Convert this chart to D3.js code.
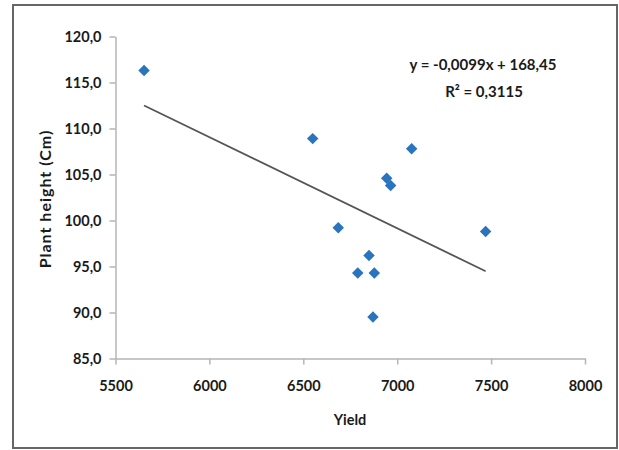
<!DOCTYPE html>
<html><head><meta charset="utf-8">
<script src="https://cdn.jsdelivr.net/npm/d3@7"></script>
<style>
html,body{margin:0;padding:0;background:#fff;}
text{font-family:Lato,"Open Sans",sans-serif;font-weight:bold;fill:#1a1a1a;}
</style></head>
<body><svg id="c" width="619" height="450"></svg>
<script>
// Data
const yieldValues  = [5652, 6550, 7077, 6944, 6965, 6686, 7471, 6850, 6790, 6878, 6871];
const heightValues = [116.3, 108.9, 107.8, 104.6, 103.8, 99.2, 98.8, 96.2, 94.3, 94.3, 89.5];
const xTicks = [5500, 6000, 6500, 7000, 7500, 8000];
const yTicks = [85, 90, 95, 100, 105, 110, 115, 120];
const trendSlope = -0.0099;
const trendIntercept = 168.45;
const equationLabel = "y = -0,0099x + 168,45";
const r2Label = "R² = 0,3115";
const xTitle = "Yield";
const yTitle = "Plant height (Cm)";

const svg = d3.select("#c");
svg.append("rect").attr("x",13).attr("y",5).attr("width",604).attr("height",443)
  .attr("fill","#fff").attr("stroke","#666").attr("stroke-width",2);

const x = d3.scaleLinear().domain([5500,8000]).range([115.5,585]);
const y = d3.scaleLinear().domain([85,120]).range([358.5,36.5]);

const fmtY = v => d3.format(".1f")(v).replace(".", ",");

const gx = svg.append("g").attr("transform","translate(0,358.5)")
  .call(d3.axisBottom(x).tickValues(xTicks).tickFormat(d3.format("d")).tickSizeInner(6).tickSizeOuter(0).tickPadding(16));
const gy = svg.append("g").attr("transform","translate(115.5,0)")
  .call(d3.axisLeft(y).tickValues(yTicks).tickFormat(fmtY).tickSizeInner(6).tickSizeOuter(0).tickPadding(8));
[gx,gy].forEach(g=>{
  g.select(".domain").attr("stroke","#b5b5b5").attr("stroke-width",1.5);
  g.selectAll(".tick line").attr("stroke","#b5b5b5").attr("stroke-width",1.5);
  g.selectAll(".tick text").attr("font-size",14.5).attr("font-family","Lato,sans-serif").attr("font-weight","bold").attr("fill","#151515");
});

// trend line
const xs = d3.extent(yieldValues);
svg.append("path")
  .attr("d", d3.line()(xs.map(v=>[x(v), y(trendSlope*v+trendIntercept)])))
  .attr("stroke","#555").attr("stroke-width",1.8).attr("fill","none");

// points
const sym = d3.symbol().type(d3.symbolSquare).size(66);
svg.append("g").selectAll("path").data(yieldValues.map((v,i)=>[v,heightValues[i]]))
  .join("path")
  .attr("d", sym)
  .attr("transform", d=>`translate(${x(d[0])},${y(d[1])}) rotate(45)`)
  .attr("fill","#2a74bd");

// labels
svg.append("text").attr("x",483).attr("y",70).attr("text-anchor","middle")
  .attr("font-size",15).text(equationLabel);
svg.append("text").attr("x",484).attr("y",97).attr("text-anchor","middle")
  .attr("font-size",15).text(r2Label);
svg.append("text").attr("x",350).attr("y",425).attr("text-anchor","middle")
  .attr("font-size",14.5).text(xTitle);
svg.append("text").attr("transform","translate(51,199) rotate(-90)").attr("text-anchor","middle")
  .attr("font-size",16).attr("letter-spacing","1px").text(yTitle);
</script></body></html>
